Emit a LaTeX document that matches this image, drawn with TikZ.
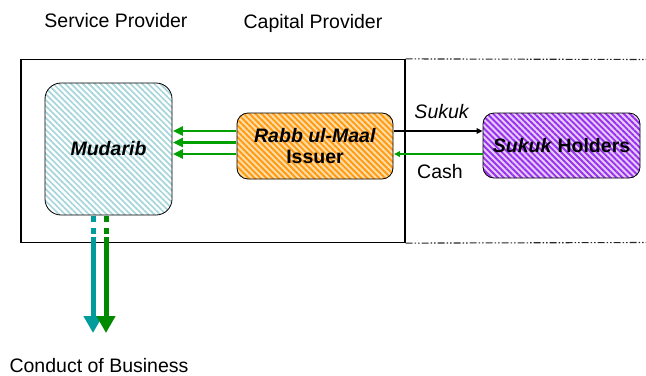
\documentclass[tikz,border=0pt]{standalone}
\usepackage{fontspec}
\setmainfont{Liberation Sans}
\usepackage{xcolor}
\usetikzlibrary{arrows.meta, patterns.meta, positioning}

\definecolor{mudaribline}{HTML}{A6D6DC}
\definecolor{issuerline}{HTML}{FF9A10}
\definecolor{issuerfill}{HTML}{FFDDA8}
\definecolor{holderline}{HTML}{9830EC}
\definecolor{holderfill}{HTML}{E6CCFF}
\definecolor{cashgreen}{HTML}{00A000}
\definecolor{bizgreen}{HTML}{008A00}
\definecolor{bizteal}{HTML}{009C9C}

\begin{document}
\begin{tikzpicture}[
        x=1bp, y=-1bp,
        font=\fontsize{19.5bp}{21bp}\selectfont,
        party/.style={rectangle, draw=black, line width=0.8bp, align=center, inner sep=0pt},
        mudaribbox/.style={party, rounded corners=16bp, minimum width=127bp, minimum height=132bp, preaction={fill=white}, pattern={Lines[angle=-45, distance=4.2bp, line width=1.7bp]}, pattern color=mudaribline},
        issuerbox/.style={party, rounded corners=11bp, minimum width=156bp, minimum height=66bp, preaction={fill=issuerfill}, pattern={Lines[angle=-45, distance=4.2bp, line width=1.9bp]}, pattern color=issuerline},
        holderbox/.style={party, rounded corners=11bp, minimum width=157bp, minimum height=65bp, preaction={fill=holderfill}, pattern={Lines[angle=-45, distance=4.2bp, line width=1.9bp]}, pattern color=holderline},
        plaintext/.style={anchor=base, inner sep=0pt},
        payflow/.style={draw=cashgreen, line width=2.6bp, -{Triangle[length=10bp, width=9bp]}},
        bigflow/.style={line width=5bp},
        bigtip/.style={-{Triangle[length=17bp, width=18bp]}},
        sideline/.style={line width=1.1bp, dash pattern=on 7bp off 2bp on 1.5bp off 2bp on 1.5bp off 2bp}
    ]

    \useasboundingbox (0,0) rectangle (646,375);

    % the capital provider's frame, carried on to the right as dash-dot lines
    \node (capital) [draw, line width=1.2bp, inner sep=0pt, minimum width=384bp, minimum height=183bp] at (213,151) {};
    \coordinate (sidetop) at (646,59.5);
    \coordinate (sidebottom) at (646,242.5);
    \draw [sideline, black!85] (capital.north east) -- (sidetop);
    \draw [sideline, black!85] (capital.south east) -- (sidebottom);

    \node (servicelbl) [plaintext] at (116,27) {Service Provider};
    \node (capitallbl) [plaintext] at (313,28.5) {Capital Provider};

    \node (mudarib) [mudaribbox] at (108.5,149) {\textbf{\textit{Mudarib}}};
    \node (issuer) [issuerbox] at (315,146) {\textbf{\textit{Rabb ul-Maal}}\\\textbf{Issuer}};
    \node (holders) [holderbox] at (561.5,145.5) {\textbf{\textit{Sukuk} Holders}};

    % funds passed on to the mudarib
    \foreach \dy in {15,3.5,-8}
        \draw [payflow] ([yshift=\dy bp]issuer.west) -- ([yshift=\dy bp]issuer.west -| mudarib.east);

    \draw [line width=1.6bp, -{Triangle[length=6bp, width=5.5bp]}] ([yshift=15bp]issuer.east) -- ([yshift=15bp]issuer.east -| holders.west);
    \draw [line width=1.6bp, draw=cashgreen, -{Triangle[length=6bp, width=5.5bp]}] ([yshift=-8bp]issuer.east -| holders.west) -- ([yshift=-8bp]issuer.east);
    \node (sukuklbl) [plaintext] at (442,118) {\textit{Sukuk}};
    \node (cashlbl) [plaintext] at (440,178) {Cash};

    % business flows leaving the mudarib
    \coordinate (tealbreak) at (93,237);
    \coordinate (tealend) at (93,333);
    \coordinate (greenbreak) at (106,237);
    \coordinate (greenend) at (106,333);
    \draw [bigflow, bizteal, dash pattern=on 6.5bp off 5.5bp] (tealbreak |- mudarib.south) -- (tealbreak);
    \draw [bigflow, bizgreen, dash pattern=on 6.5bp off 5.5bp] (greenbreak |- mudarib.south) -- (greenbreak);
    \draw [bigflow, bigtip, bizteal] (tealbreak) -- (tealend);
    \draw [bigflow, bigtip, bizgreen] (greenbreak) -- (greenend);

    \node (conductlbl) [plaintext] at (99,372) {Conduct of Business};

\end{tikzpicture}
\end{document}
